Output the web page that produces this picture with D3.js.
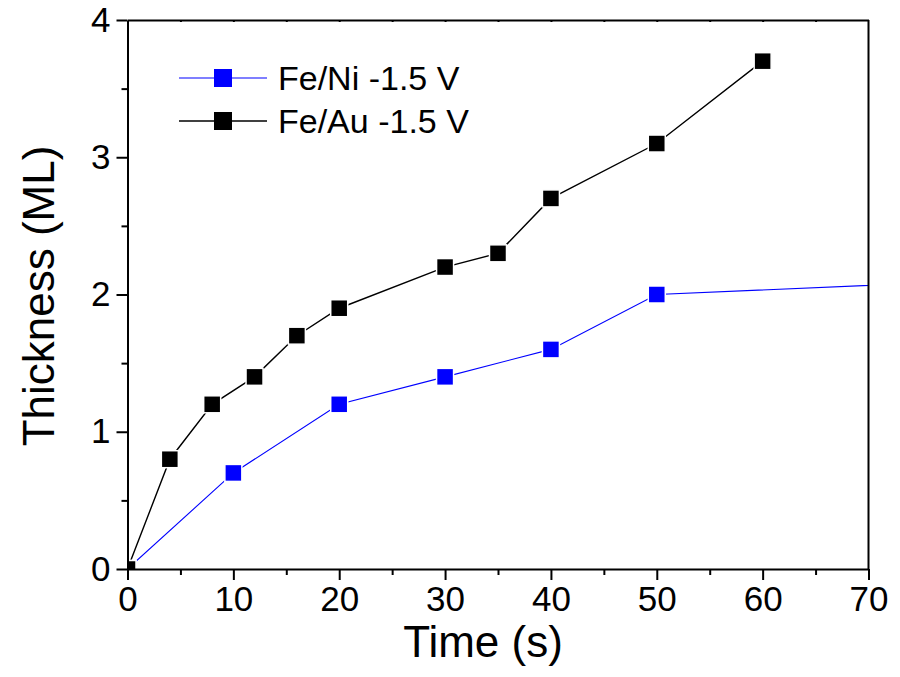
<!DOCTYPE html>
<html>
<head>
<meta charset="utf-8">
<script src="https://cdnjs.cloudflare.com/ajax/libs/d3/7.8.5/d3.min.js"></script>
<style>
    body { margin: 0; background: #fff; }
    text { font-family: "Liberation Sans", Arial, sans-serif; fill: #000; }
</style>
</head>
<body>
<script>
// data
var niTime = [0, 10, 20, 30, 40, 50, 80];
var niThickness = [0, 0.7, 1.2, 1.4, 1.6, 2.0, 2.1];
var auTime = [0, 4, 8, 12, 16, 20, 30, 35, 40, 50, 60];
var auThickness = [0, 0.8, 1.2, 1.4, 1.7, 1.9, 2.2, 2.3, 2.7, 3.1, 3.7];
var xTicks = [0, 10, 20, 30, 40, 50, 60, 70];
var yTicks = [0, 1, 2, 3, 4];
var seriesNames = ["Fe/Ni -1.5 V", "Fe/Au -1.5 V"];
var seriesColors = ["#0000ff", "#000000"];

var width = 900, height = 677;
var plotL = 127.5, plotR = 868.5, plotT = 20, plotB = 569;

var svg = d3.select("body").append("svg")
    .attr("width", width)
    .attr("height", height);

var x = d3.scaleLinear().domain([0, 70]).range([plotL, plotR]);
var y = d3.scaleLinear().domain([0, 4]).range([plotB, plotT]);

svg.append("defs").append("clipPath")
    .attr("id", "plotClip")
    .append("rect")
    .attr("x", plotL).attr("y", plotT)
    .attr("width", plotR - plotL).attr("height", plotB - plotT);

var series = [
    { name: seriesNames[0], color: seriesColors[0], width: 1.1,
      pts: niTime.map(function (t, i) { return [t, niThickness[i]]; }) },
    { name: seriesNames[1], color: seriesColors[1], width: 1.4,
      pts: auTime.map(function (t, i) { return [t, auThickness[i]]; }) }
];

var plot = svg.append("g").attr("clip-path", "url(#plotClip)");
var line = d3.line()
    .x(function (d) { return x(d[0]); })
    .y(function (d) { return y(d[1]); });

var ms = 17;
series.forEach(function (s) {
    plot.append("path")
        .attr("d", line(s.pts))
        .attr("fill", "none")
        .attr("stroke", s.color)
        .attr("stroke-width", s.width);
});
series.forEach(function (s) {
    plot.selectAll(null)
        .data(s.pts)
        .enter()
        .append("rect")
        .attr("x", function (d) { return x(d[0]) - ms / 2; })
        .attr("y", function (d) { return y(d[1]) - ms / 2; })
        .attr("width", ms)
        .attr("height", ms)
        .attr("fill", s.color)
        .attr("stroke", "#fff")
        .attr("stroke-width", 1.5);
});

// minor ticks
var xMinor = d3.range(5, 70, 10);
var yMinor = d3.range(0.5, 4, 1);

// bottom axis
var bAxis = svg.append("g")
    .attr("transform", "translate(0," + plotB + ")")
    .call(d3.axisBottom(x).tickValues(xTicks).tickFormat(d3.format("d"))
        .tickSizeInner(11).tickSizeOuter(0).tickPadding(6));
bAxis.selectAll("text").style("font-size", "35px");
svg.append("g")
    .attr("transform", "translate(0," + plotB + ")")
    .call(d3.axisBottom(x).tickValues(xMinor).tickFormat("").tickSizeInner(6).tickSizeOuter(0))
    .select(".domain").remove();

// left axis
var lAxis = svg.append("g")
    .attr("transform", "translate(" + plotL + ",0)")
    .call(d3.axisLeft(y).tickValues(yTicks).tickFormat(d3.format("d"))
        .tickSizeInner(11).tickSizeOuter(0).tickPadding(6));
lAxis.selectAll("text").style("font-size", "35px");
svg.append("g")
    .attr("transform", "translate(" + plotL + ",0)")
    .call(d3.axisLeft(y).tickValues(yMinor).tickFormat("").tickSizeInner(6).tickSizeOuter(0))
    .select(".domain").remove();

// top axis with tiny inward ticks
svg.append("g")
    .attr("transform", "translate(0," + plotT + ")")
    .call(d3.axisTop(x).tickValues(d3.range(5, 70, 5)).tickFormat("").tickSizeInner(-2).tickSizeOuter(0));

// right frame
svg.append("line")
    .attr("x1", plotR).attr("x2", plotR)
    .attr("y1", plotT).attr("y2", plotB)
    .attr("stroke", "#000");

svg.selectAll(".domain, .tick line")
    .attr("stroke", "#000")
    .attr("stroke-width", 2);
svg.selectAll("line").attr("stroke-width", 2);

// axis titles
svg.append("text")
    .attr("x", 483)
    .attr("y", 657)
    .attr("text-anchor", "middle")
    .style("font-size", "44px")
    .text("Time (s)");

svg.append("text")
    .attr("transform", "translate(54,296) rotate(-90)")
    .attr("text-anchor", "middle")
    .style("font-size", "44px")
    .text("Thickness (ML)");

// legend
var legend = svg.append("g");
series.forEach(function (s, i) {
    var ly = 78 + i * 43;
    legend.append("line")
        .attr("x1", 179).attr("x2", 267)
        .attr("y1", ly).attr("y2", ly)
        .attr("stroke", s.color)
        .attr("stroke-width", s.width);
    legend.append("rect")
        .attr("x", 223 - 9).attr("y", ly - 9)
        .attr("width", 18).attr("height", 18)
        .attr("fill", s.color);
    legend.append("text")
        .attr("x", 278)
        .attr("y", ly + 12)
        .style("font-size", "34px")
        .text(s.name);
});
</script>
</body>
</html>
